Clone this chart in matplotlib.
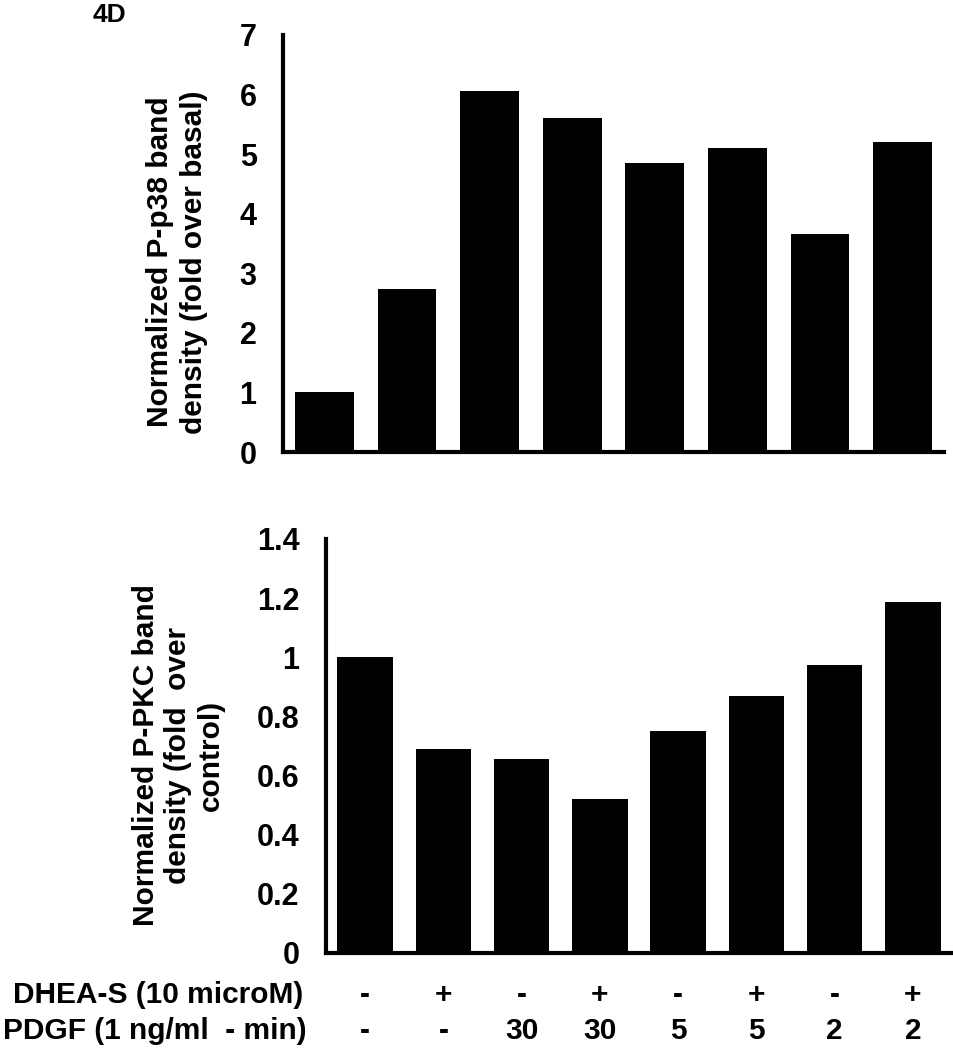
import matplotlib.pyplot as plt
import matplotlib.transforms as mtransforms

plt.rcParams['font.family'] = ['Liberation Sans', 'DejaVu Sans']
plt.rcParams['font.weight'] = 'bold'

# Bar values (8 conditions)
p38_values = [1.0, 2.73, 6.06, 5.6, 4.85, 5.1, 3.66, 5.2]
pkc_values = [1.0, 0.69, 0.657, 0.52, 0.75, 0.87, 0.973, 1.186]

# Condition labels below the lower panel
dhea_labels = ['-', '+', '-', '+', '-', '+', '-', '+']
pdgf_labels = ['-', '-', '30', '30', '5', '5', '2', '2']

p38_ticks = [0, 1, 2, 3, 4, 5, 6, 7]
pkc_ticks = [0, 0.2, 0.4, 0.6, 0.8, 1, 1.2, 1.4]
pkc_tick_labels = ['0', '0.2', '0.4', '0.6', '0.8', '1', '1.2', '1.4']

W, H = 954, 1050
fig = plt.figure(figsize=(W / 100, H / 100), dpi=100)

# axes placed in pixel terms of the reference
ax1 = fig.add_axes([283 / W, 1 - 452 / H, (944 - 283) / W, (452 - 35) / H])
ax2 = fig.add_axes([326 / W, 1 - 953 / H, (952 - 326) / W, (953 - 539) / H])

x = range(len(p38_values))


def style(ax):
    for s in ['top', 'right']:
        ax.spines[s].set_visible(False)
    for s in ['left', 'bottom']:
        ax.spines[s].set_linewidth(3)
    ax.tick_params(axis='both', length=0, labelsize=22, pad=19)
    ax.set_xlim(-0.5, 7.5)
    ax.set_xticks([])


ax1.bar(x, p38_values, width=0.71, color='black')
style(ax1)
ax1.set_ylim(0, 7)
ax1.set_yticks(p38_ticks)
ax1.set_yticklabels([str(t) for t in p38_ticks], fontweight='bold')

ax2.bar(x, pkc_values, width=0.71, color='black')
style(ax2)
ax2.set_ylim(0, 1.4)
ax2.set_yticks(pkc_ticks)
ax2.set_yticklabels(pkc_tick_labels, fontweight='bold')

# y axis titles
fig.text(177 / W, 1 - 262 / H, 'Normalized P-p38 band\ndensity (fold over basal)',
         rotation=90, ha='center', va='center', multialignment='center',
         fontsize=21.5, fontweight='bold', linespacing=1.3)
fig.text(178 / W, 1 - 755 / H, 'Normalized P-PKC band\ndensity (fold  over\ncontrol)',
         rotation=90, ha='center', va='center', multialignment='center',
         fontsize=21.5, fontweight='bold', linespacing=1.2)

fig.text(93 / W, 1 - 15 / H, '4D', ha='left', va='center', fontsize=19, fontweight='bold')

# treatment rows
row_y = [995, 1031]
fig.text(303 / W, 1 - row_y[0] / H, 'DHEA-S (10 microM)', ha='right', va='center',
         fontsize=21.5, fontweight='bold')
fig.text(307 / W, 1 - row_y[1] / H, 'PDGF (1 ng/ml  - min)', ha='right', va='center',
         fontsize=21.5, fontweight='bold')

trans = mtransforms.blended_transform_factory(ax2.transData, fig.transFigure)
for i in x:
    ax2.text(i, 1 - row_y[0] / H, dhea_labels[i], transform=trans, ha='center', va='center',
             fontsize=21.5, fontweight='bold')
    ax2.text(i, 1 - row_y[1] / H, pdgf_labels[i], transform=trans, ha='center', va='center',
             fontsize=21.5, fontweight='bold')

plt.savefig('out.png', dpi=100)
